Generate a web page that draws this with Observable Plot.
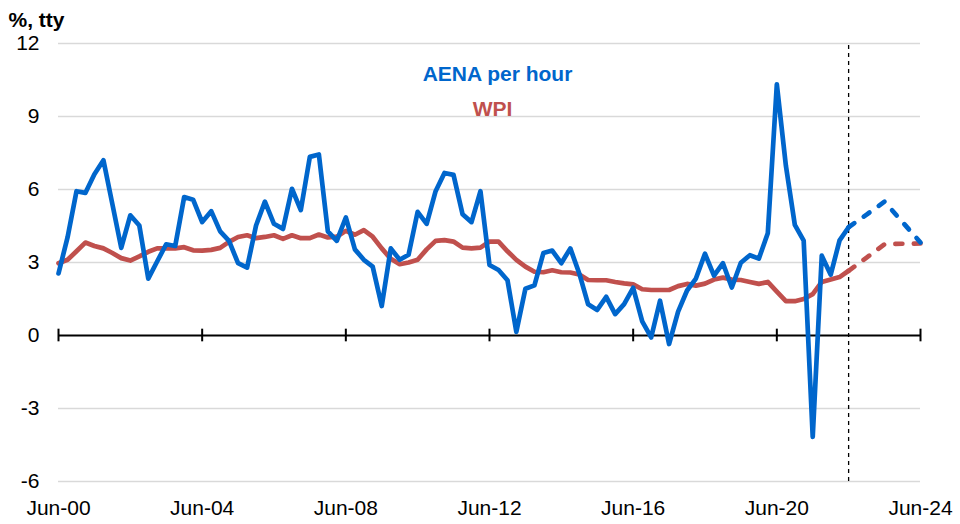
<!DOCTYPE html>
<html><head><meta charset="utf-8">
<script src="https://cdn.jsdelivr.net/npm/d3@7"></script>
<script src="https://cdn.jsdelivr.net/npm/@observablehq/plot@0.6"></script>
<style>html,body{margin:0;padding:0;background:#fff;} svg{display:block;}</style>
</head><body><div id="chart"></div>
<script>
// Quarterly series, Jun-00 .. Jun-22 (year-ended % change)
const firstQuarter = [2000, 6]; // year, month of first observation
const aena = [
  2.55, 4.03, 5.93, 5.86, 6.63, 7.2, 5.4, 3.6, 4.94, 4.52,
  2.34, 3.04, 3.75, 3.68, 5.69, 5.58, 4.66, 5.11, 4.28, 3.89,
  2.97, 2.79, 4.52, 5.5, 4.59, 4.38, 6.03, 5.15, 7.34, 7.44,
  4.28, 3.89, 4.85, 3.54, 3.11, 2.83, 1.21, 3.58, 3.11, 3.32,
  5.08, 4.59, 5.93, 6.68, 6.6, 4.98, 4.66, 5.93, 2.9, 2.69,
  2.27, 0.15, 1.92, 2.06, 3.39, 3.49, 2.97, 3.58, 2.55, 1.28,
  1.05, 1.59, 0.88, 1.29, 1.96, 0.58, -0.08, 1.43, -0.35, 0.98,
  1.85, 2.34, 3.36, 2.46, 2.97, 1.97, 2.99, 3.3, 3.16, 4.2,
  10.32, 6.98, 4.55, 3.9, -4.17, 3.28, 2.5, 3.91, 4.45
];
const wpi = [
  2.97, 3.11, 3.46, 3.82, 3.68, 3.58, 3.39, 3.18, 3.08, 3.25,
  3.44, 3.58, 3.58, 3.58, 3.63, 3.5, 3.49, 3.52, 3.6, 3.85,
  4.05, 4.12, 4.0, 4.05, 4.12, 3.97, 4.12, 4.0, 4.0, 4.15,
  4.03, 4.06, 4.3, 4.14, 4.33, 4.06, 3.58, 3.15, 2.93, 3.0,
  3.11, 3.54, 3.89, 3.92, 3.86, 3.61, 3.58, 3.61, 3.86, 3.86,
  3.46, 3.11, 2.83, 2.62, 2.6, 2.68, 2.6, 2.59, 2.51, 2.28,
  2.27, 2.27, 2.2, 2.14, 2.1, 1.9, 1.87, 1.87, 1.87, 2.03,
  2.12, 2.05, 2.13, 2.3, 2.38, 2.3, 2.28, 2.2, 2.12, 2.2,
  1.8, 1.41, 1.41, 1.5, 1.7, 2.2, 2.3, 2.4, 2.66
];
// Forecasts
const forecastQuarters = ["2022-06", "2022-12", "2023-06", "2023-12", "2024-06"];
const aenaForecast = [4.45, 4.97, 5.5, 4.66, 3.82];
const wpiForecast = [2.66, 3.2, 3.75, 3.77, 3.78];
const forecastLine = "2022-06";
// Axes
const yTicks = [-6, -3, 0, 3, 6, 9, 12];
const xTickLabels = ["Jun-00", "Jun-04", "Jun-08", "Jun-12", "Jun-16", "Jun-20", "Jun-24"];
const titleText = "%, tty";
const seriesNames = ["AENA per hour", "WPI"];

const parseQ = d3.utcParse("%Y-%m");
const parseLabel = d3.utcParse("%b-%y");
const qDate = i => new Date(Date.UTC(firstQuarter[0], firstQuarter[1] - 1 + 3 * i, 1));

const aenaData = aena.map((v, i) => ({date: qDate(i), value: v}));
const wpiData = wpi.map((v, i) => ({date: qDate(i), value: v}));
const aenaF = forecastQuarters.map((q, i) => ({date: parseQ(q), value: aenaForecast[i]}));
const wpiF = forecastQuarters.map((q, i) => ({date: parseQ(q), value: wpiForecast[i]}));
const xTicks = xTickLabels.map(parseLabel);
const fmt = d3.utcFormat("%b-%y");

const BLUE = "#0066cc";
const RED = "#c0504d";
const FONT = "'Liberation Sans', Arial, sans-serif";

const chart = Plot.plot({
  width: 960,
  height: 524,
  marginLeft: 58,
  marginRight: 40,
  marginTop: 43,
  marginBottom: 43,
  style: {fontFamily: FONT, fontSize: "21px", color: "#000", background: "#fff"},
  x: {type: "utc", domain: [xTicks[0], xTicks[xTicks.length - 1]]},
  y: {domain: [-6, 12]},
  marks: [
    Plot.ruleY(yTicks.filter(d => d !== 0), {stroke: "#d9d9d9", strokeWidth: 1.3}),
    Plot.axisY(yTicks, {tickSize: 0, tickPadding: 19, fontSize: 21, fill: "#000", label: null, tickFormat: d => String(d)}),
    Plot.axisX(xTicks, {tickSize: 0, tickPadding: 19, fontSize: 21, fill: "#000", tickFormat: fmt, label: null}),
    Plot.ruleY([0], {stroke: "#000", strokeWidth: 2}),
    Plot.ruleX(xTicks, {y1: -0.26, y2: 0.26, stroke: "#000", strokeWidth: 2}),
    Plot.ruleX([parseQ(forecastLine)], {y1: -6, y2: 12, stroke: "#000", strokeWidth: 1.3, strokeDasharray: "4,4"}),
    Plot.line(wpiF, {x: "date", y: "value", stroke: RED, strokeWidth: 4.7, strokeDasharray: "7,11.5", strokeLinecap: "round"}),
    Plot.line(aenaF, {x: "date", y: "value", stroke: BLUE, strokeWidth: 4.7, strokeDasharray: "7,11.5", strokeLinecap: "round"}),
    Plot.line(wpiData, {x: "date", y: "value", stroke: RED, strokeWidth: 4.7, strokeLinejoin: "round"}),
    Plot.line(aenaData, {x: "date", y: "value", stroke: BLUE, strokeWidth: 4.7, strokeLinejoin: "round"}),
    Plot.text([titleText], {frameAnchor: "top-left", textAnchor: "start", dx: -50, dy: -31, fontWeight: "bold", fontSize: 21, fill: "#000"}),
    Plot.text([seriesNames[0]], {frameAnchor: "top", dx: 8, dy: 22.5, fontWeight: "bold", fontSize: 21, fill: BLUE}),
    Plot.text([seriesNames[1]], {frameAnchor: "top", dx: 3, dy: 57.5, fontWeight: "bold", fontSize: 21, fill: RED})
  ]
});
document.getElementById("chart").appendChild(chart);
</script>
</body></html>
